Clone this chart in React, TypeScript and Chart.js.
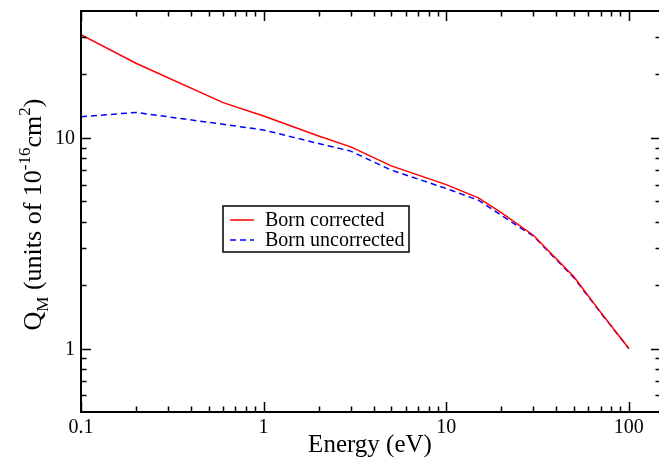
import React, { useEffect, useRef } from "react";
import { Chart, registerables } from "chart.js";

Chart.register(...registerables);

const energy = [0.1, 0.2, 0.6, 1, 2, 3, 5, 10, 15, 20, 30, 50, 70, 100];
const bornCorrected = [30.9, 22.6, 14.7, 12.7, 10.2, 9.06, 7.36, 6.0, 5.19, 4.42, 3.45, 2.19, 1.49, 1.0];
const bornUncorrected = [12.6, 13.2, 11.6, 10.9, 9.4, 8.65, 7.03, 5.75, 5.06, 4.29, 3.42, 2.17, 1.48, 1.0];

const xMajorTicks = [0.1, 1, 10, 100];
const xMinorTicks = [0.2, 0.3, 0.4, 0.5, 0.6, 0.7, 0.8, 0.9, 2, 3, 4, 5, 6, 7, 8, 9, 20, 30, 40, 50, 60, 70, 80, 90];
const yMajorTicks = [1, 10];
const yMinorTicks = [0.6, 0.7, 0.8, 0.9, 2, 3, 4, 5, 6, 7, 8, 9, 20, 30];
const xTickLabels = ["0.1", "1", "10", "100"];
const yTickLabels = ["1", "10"];

const seriesLabels = ["Born corrected", "Born uncorrected"];
const seriesColors = ["#ff0000", "#0000ff"];

const W = 662;
const H = 461;
const SERIF = '"Liberation Serif", "Times New Roman", serif';

const framePlugin = {
  id: "frameTicks",
  afterDraw(chart: any) {
    const ctx = chart.ctx;
    const { left, right, top, bottom } = chart.chartArea;
    const xs = chart.scales.x;
    const ys = chart.scales.y;
    ctx.save();
    ctx.strokeStyle = "#000";
    ctx.lineWidth = 1.5;
    const majorLen = 10;
    const minorLen = 5.5;
    const drawX = (v: number, len: number) => {
      const px = Math.round(xs.getPixelForValue(v)) + 0.5;
      ctx.beginPath();
      ctx.moveTo(px, bottom);
      ctx.lineTo(px, bottom - len);
      ctx.moveTo(px, top);
      ctx.lineTo(px, top + len);
      ctx.stroke();
    };
    const drawY = (v: number, len: number) => {
      const py = Math.round(ys.getPixelForValue(v)) + 0.5;
      ctx.beginPath();
      ctx.moveTo(left, py);
      ctx.lineTo(left + len, py);
      ctx.moveTo(right, py);
      ctx.lineTo(right - len, py);
      ctx.stroke();
    };
    xMinorTicks.forEach((v) => drawX(v, minorLen));
    xMajorTicks.forEach((v) => drawX(v, majorLen));
    yMinorTicks.forEach((v) => drawY(v, minorLen));
    yMajorTicks.forEach((v) => drawY(v, majorLen));
    ctx.lineWidth = 2;
    ctx.strokeRect(left, top, right - left, bottom - top);

    // tick labels
    ctx.fillStyle = "#000";
    ctx.font = `20px ${SERIF}`;
    ctx.textAlign = "center";
    ctx.textBaseline = "alphabetic";
    xMajorTicks.forEach((v, i) => {
      ctx.fillText(xTickLabels[i], xs.getPixelForValue(v), bottom + 21);
    });
    ctx.textAlign = "right";
    ctx.textBaseline = "middle";
    yMajorTicks.forEach((v, i) => {
      ctx.fillText(yTickLabels[i], left - 6, ys.getPixelForValue(v) + 1);
    });

    // x title
    ctx.font = `25px ${SERIF}`;
    ctx.textAlign = "center";
    ctx.textBaseline = "alphabetic";
    ctx.fillText("Energy (eV)", (left + right - 2) / 2, bottom + 40);

    // y title with sub/superscripts
    const segs = [
      { t: "Q", s: 26, dy: 0 },
      { t: "M", s: 17, dy: 7 },
      { t: " (units of 10", s: 26, dy: 0 },
      { t: "-16", s: 17, dy: -11 },
      { t: "cm", s: 26, dy: 0 },
      { t: "2", s: 17, dy: -11 },
      { t: ")", s: 26, dy: 0 },
    ];
    let total = 0;
    const widths = segs.map((sg) => {
      ctx.font = `${sg.s}px ${SERIF}`;
      const w = ctx.measureText(sg.t).width;
      total += w;
      return w;
    });
    ctx.save();
    ctx.translate(41, (top + bottom) / 2 + 3);
    ctx.rotate(-Math.PI / 2);
    ctx.textAlign = "left";
    ctx.textBaseline = "alphabetic";
    let xx = -total / 2;
    segs.forEach((sg, i) => {
      ctx.font = `${sg.s}px ${SERIF}`;
      ctx.fillText(sg.t, xx, sg.dy);
      xx += widths[i];
    });
    ctx.restore();

    // legend
    const lx = 223;
    const ly = 206;
    const lw = 186;
    const lh = 46;
    ctx.fillStyle = "#fff";
    ctx.fillRect(lx, ly, lw, lh);
    ctx.lineWidth = 1.5;
    ctx.strokeStyle = "#000";
    ctx.strokeRect(lx, ly, lw, lh);
    ctx.font = `20px ${SERIF}`;
    ctx.textAlign = "left";
    ctx.textBaseline = "middle";
    chart.data.datasets.forEach((ds: any, i: number) => {
      const yy = ly + 14 + i * 20;
      ctx.strokeStyle = ds.borderColor;
      ctx.lineWidth = 1.5;
      ctx.setLineDash(ds.borderDash || []);
      ctx.beginPath();
      ctx.moveTo(lx + 7, yy);
      ctx.lineTo(lx + 31, yy);
      ctx.stroke();
      ctx.setLineDash([]);
      ctx.fillStyle = "#000";
      ctx.fillText(ds.label, lx + 42, yy + 1);
    });
    ctx.restore();
  },
};

export default function App() {
  const ref = useRef<HTMLCanvasElement | null>(null);
  useEffect(() => {
    document.body.style.margin = "0";
    document.body.style.overflow = "hidden";
    const canvas = ref.current!;
    const chart = new Chart(canvas, {
      type: "line",
      data: {
        datasets: [
          {
            label: seriesLabels[0],
            data: energy.map((x, i) => ({ x, y: bornCorrected[i] })),
            borderColor: seriesColors[0],
            borderWidth: 1.5,
            pointRadius: 0,
            tension: 0,
            fill: false,
          },
          {
            label: seriesLabels[1],
            data: energy.map((x, i) => ({ x, y: bornUncorrected[i] })),
            borderColor: seriesColors[1],
            borderWidth: 1.5,
            borderDash: [6, 4],
            pointRadius: 0,
            tension: 0,
            fill: false,
          },
        ],
      },
      options: {
        responsive: false,
        animation: false,
        devicePixelRatio: 1,
        layout: { padding: { left: 81, top: 11, right: W - 661, bottom: H - 412 } },
        plugins: { legend: { display: false }, tooltip: { enabled: false } },
        scales: {
          x: { type: "logarithmic", min: 0.1, max: 150, display: false },
          y: { type: "logarithmic", min: 0.5, max: 40, display: false },
        },
      },
      plugins: [framePlugin],
    });
    return () => chart.destroy();
  }, []);
  return (
    <div style={{ position: "fixed", left: 0, top: 0, width: W, height: H, background: "#fff" }}>
      <canvas ref={ref} width={W} height={H} style={{ display: "block" }} />
    </div>
  );
}
